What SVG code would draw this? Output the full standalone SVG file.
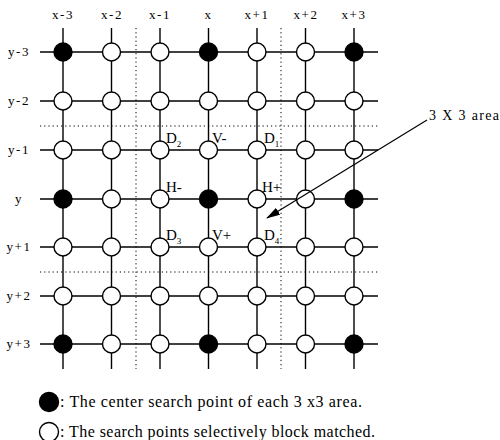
<svg xmlns="http://www.w3.org/2000/svg" width="500" height="440" viewBox="0 0 500 440">
<defs>
<style>
text{font-family:"Liberation Serif","Times New Roman",serif;fill:#000}
.lbl{font-size:13px;letter-spacing:1.6px;text-anchor:middle}
.pt{font-size:15px}
.sub{font-size:9px}
.grid{stroke:#000;stroke-width:1.4;fill:none}
.dot{stroke:#000;stroke-width:1;stroke-dasharray:1.2 3;fill:none}
.open{fill:#fff;stroke:#000;stroke-width:1.4}
.full{fill:#000;stroke:#000;stroke-width:1.4}
.leg{font-size:16px}
</style>
<marker id="ah" viewBox="0 0 14 8" refX="13" refY="4" markerWidth="14" markerHeight="8" markerUnits="userSpaceOnUse" orient="auto">
<path d="M0,0 L14,4 L0,8 Z" fill="#000"/>
</marker>
</defs>
<rect width="500" height="440" fill="#fff"/>

<g id="axis-labels">
<text class="lbl" x="63" y="19">x-3</text>
<text class="lbl" x="112" y="19">x-2</text>
<text class="lbl" x="160" y="19">x-1</text>
<text class="lbl" x="208.5" y="19">x</text>
<text class="lbl" x="257" y="19">x+1</text>
<text class="lbl" x="306" y="19">x+2</text>
<text class="lbl" x="354" y="19">x+3</text>
<text class="lbl" x="19" y="56">y-3</text>
<text class="lbl" x="19" y="105">y-2</text>
<text class="lbl" x="19" y="154">y-1</text>
<text class="lbl" x="19" y="203">y</text>
<text class="lbl" x="19" y="251">y+1</text>
<text class="lbl" x="19" y="300">y+2</text>
<text class="lbl" x="19" y="348">y+3</text>
</g>

<g id="connectors">
<g class="dot">
<line x1="136" y1="28" x2="136" y2="369"/>
<line x1="281" y1="28" x2="281" y2="369"/>
<line x1="40" y1="126" x2="378" y2="126"/>
<line x1="40" y1="272" x2="378" y2="272"/>
</g>
<g class="grid">
<line x1="40" y1="52" x2="378" y2="52"/>
<line x1="40" y1="101" x2="378" y2="101"/>
<line x1="40" y1="150" x2="378" y2="150"/>
<line x1="40" y1="199" x2="378" y2="199"/>
<line x1="40" y1="247" x2="378" y2="247"/>
<line x1="40" y1="296" x2="378" y2="296"/>
<line x1="40" y1="344" x2="378" y2="344"/>
<line x1="63" y1="28" x2="63" y2="369"/>
<line x1="111.5" y1="28" x2="111.5" y2="369"/>
<line x1="160" y1="28" x2="160" y2="369"/>
<line x1="208.5" y1="28" x2="208.5" y2="369"/>
<line x1="257" y1="28" x2="257" y2="369"/>
<line x1="305.5" y1="28" x2="305.5" y2="369"/>
<line x1="354" y1="28" x2="354" y2="369"/>
</g>
</g>

<g id="nodes">
<g id="r0"><circle class="full" cx="63" cy="52" r="9"/><circle class="open" cx="111.5" cy="52" r="9"/><circle class="open" cx="160" cy="52" r="9"/><circle class="full" cx="208.5" cy="52" r="9"/><circle class="open" cx="257" cy="52" r="9"/><circle class="open" cx="305.5" cy="52" r="9"/><circle class="full" cx="354" cy="52" r="9"/></g>
<g id="r1"><circle class="open" cx="63" cy="101" r="9"/><circle class="open" cx="111.5" cy="101" r="9"/><circle class="open" cx="160" cy="101" r="9"/><circle class="open" cx="208.5" cy="101" r="9"/><circle class="open" cx="257" cy="101" r="9"/><circle class="open" cx="305.5" cy="101" r="9"/><circle class="open" cx="354" cy="101" r="9"/></g>
<g id="r2"><circle class="open" cx="63" cy="150" r="9"/><circle class="open" cx="111.5" cy="150" r="9"/><circle class="open" cx="160" cy="150" r="9"/><circle class="open" cx="208.5" cy="150" r="9"/><circle class="open" cx="257" cy="150" r="9"/><circle class="open" cx="305.5" cy="150" r="9"/><circle class="open" cx="354" cy="150" r="9"/></g>
<g id="r3"><circle class="full" cx="63" cy="199" r="9"/><circle class="open" cx="111.5" cy="199" r="9"/><circle class="open" cx="160" cy="199" r="9"/><circle class="full" cx="208.5" cy="199" r="9"/><circle class="open" cx="257" cy="199" r="9"/><circle class="open" cx="305.5" cy="199" r="9"/><circle class="full" cx="354" cy="199" r="9"/></g>
<g id="r4"><circle class="open" cx="63" cy="247" r="9"/><circle class="open" cx="111.5" cy="247" r="9"/><circle class="open" cx="160" cy="247" r="9"/><circle class="open" cx="208.5" cy="247" r="9"/><circle class="open" cx="257" cy="247" r="9"/><circle class="open" cx="305.5" cy="247" r="9"/><circle class="open" cx="354" cy="247" r="9"/></g>
<g id="r5"><circle class="open" cx="63" cy="296" r="9"/><circle class="open" cx="111.5" cy="296" r="9"/><circle class="open" cx="160" cy="296" r="9"/><circle class="open" cx="208.5" cy="296" r="9"/><circle class="open" cx="257" cy="296" r="9"/><circle class="open" cx="305.5" cy="296" r="9"/><circle class="open" cx="354" cy="296" r="9"/></g>
<g id="r6"><circle class="full" cx="63" cy="344" r="9"/><circle class="open" cx="111.5" cy="344" r="9"/><circle class="open" cx="160" cy="344" r="9"/><circle class="full" cx="208.5" cy="344" r="9"/><circle class="open" cx="257" cy="344" r="9"/><circle class="open" cx="305.5" cy="344" r="9"/><circle class="full" cx="354" cy="344" r="9"/></g>
</g>

<g id="point-labels">
<text class="pt" x="166" y="143">D<tspan class="sub" dy="4">2</tspan></text>
<text class="pt" x="212" y="143">V-</text>
<text class="pt" x="264" y="143">D<tspan class="sub" dy="4">1</tspan></text>
<text class="pt" x="166" y="192">H-</text>
<text class="pt" x="262" y="192">H+</text>
<text class="pt" x="166" y="240">D<tspan class="sub" dy="4">3</tspan></text>
<text class="pt" x="212" y="240">V+</text>
<text class="pt" x="264" y="240">D<tspan class="sub" dy="4">4</tspan></text>
</g>

<g id="callout">
<line x1="427" y1="120" x2="267" y2="218" stroke="#000" stroke-width="1.2" marker-end="url(#ah)"/>
<text x="429" y="120" font-size="14" textLength="70" lengthAdjust="spacing">3 X 3 area</text>
</g>

<g id="legend">
<circle class="full" cx="49" cy="402" r="9.5"/>
<text class="leg" x="60" y="407" textLength="302" lengthAdjust="spacing">: The center search point of each 3  x3 area.</text>
<circle class="open" cx="49" cy="432" r="9.5"/>
<text class="leg" x="60" y="437" textLength="315" lengthAdjust="spacing">: The search points selectively block matched.</text>
</g>
</svg>
